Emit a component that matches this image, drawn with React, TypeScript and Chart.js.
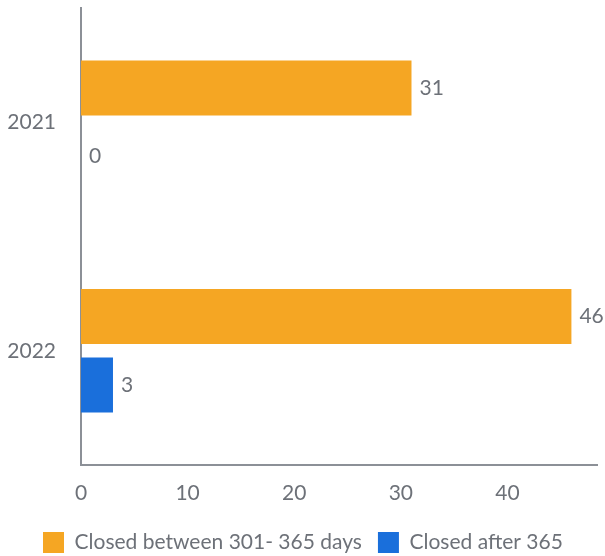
import React, { useEffect, useRef } from "react";
import { Chart, registerables } from "chart.js";

Chart.register(...registerables);

const categories = ["2021", "2022"];
const seriesNames = ["Closed between 301- 365 days", "Closed after 365"];
const between301and365 = [31, 46];
const after365 = [0, 3];
const seriesColors = ["#F5A623", "#1A6FDB"];
const xMax = 48.4;

const TEXT = "#6d7178";
const AXIS = "#8c9097";
const FONT = "Lato";
const FS = 21;

const valueLabels = {
  id: "valueLabels",
  afterDatasetsDraw(chart: any) {
    const ctx = chart.ctx;
    ctx.save();
    ctx.font = `${FS}px ${FONT}`;
    ctx.fillStyle = TEXT;
    ctx.textBaseline = "middle";
    ctx.textAlign = "left";
    chart.data.datasets.forEach((ds: any, di: number) => {
      const meta = chart.getDatasetMeta(di);
      meta.data.forEach((bar: any, i: number) => {
        ctx.fillText(String(ds.data[i]), bar.x + 8, bar.y);
      });
    });
    ctx.restore();
  },
};

const legendShift = {
  id: "legendShift",
  afterLayout(chart: any) {
    const lg = chart.legend;
    if (!lg) return;
    const dx = 19;
    const dy = 7;
    lg.left += dx;
    lg.right += dx;
    lg.top += dy;
    lg.bottom += dy;
  },
};

export default function App() {
  const ref = useRef<HTMLCanvasElement>(null);
  useEffect(() => {
    if (!ref.current) return;
    const chart = new Chart(ref.current, {
      type: "bar",
      data: {
        labels: categories,
        datasets: [
          {
            label: seriesNames[0],
            data: between301and365,
            backgroundColor: seriesColors[0],
            categoryPercentage: 0.6,
            barPercentage: 0.8,
          },
          {
            label: seriesNames[1],
            data: after365,
            backgroundColor: seriesColors[1],
            categoryPercentage: 0.6,
            barPercentage: 0.8,
          },
        ],
      },
      options: {
        indexAxis: "y",
        animation: false,
        responsive: false,
        devicePixelRatio: 1,
        layout: { padding: { top: 8, left: 8, right: 8, bottom: 0 } },
        scales: {
          x: {
            min: 0,
            max: xMax,
            grid: { display: false, tickLength: 16 },
            border: { display: true, color: AXIS, width: 2 },
            ticks: { stepSize: 10, color: TEXT, font: { family: FONT, size: FS }, padding: 0 },
            afterBuildTicks: (axis: any) => {
              axis.ticks = axis.ticks.filter((t: any) => t.value % 10 === 0);
            },
            afterFit: (s: any) => {
              s.height = 44;
              s.paddingLeft = 0;
              s.paddingRight = 0;
            },
          },
          y: {
            grid: { display: false, tickLength: 25 },
            border: { display: true, color: AXIS, width: 2 },
            ticks: { color: TEXT, font: { family: FONT, size: FS }, padding: 0 },
            afterFit: (s: any) => {
              s.width = 73;
              s.paddingTop = 0;
              s.paddingBottom = 0;
            },
          },
        },
        plugins: {
          legend: {
            position: "bottom",
            align: "start",
            labels: {
              boxWidth: 21,
              boxHeight: 21,
              padding: 16,
              color: TEXT,
              font: { family: FONT, size: FS },
            },
          },
          tooltip: { enabled: false },
        },
      },
      plugins: [valueLabels, legendShift],
    });
    return () => chart.destroy();
  }, []);
  return (
    <div style={{ position: "fixed", left: 0, top: 0, width: 605, height: 556, background: "#fff" }}>
      <canvas ref={ref} width={605} height={556} style={{ width: 605, height: 556 }} />
    </div>
  );
}
